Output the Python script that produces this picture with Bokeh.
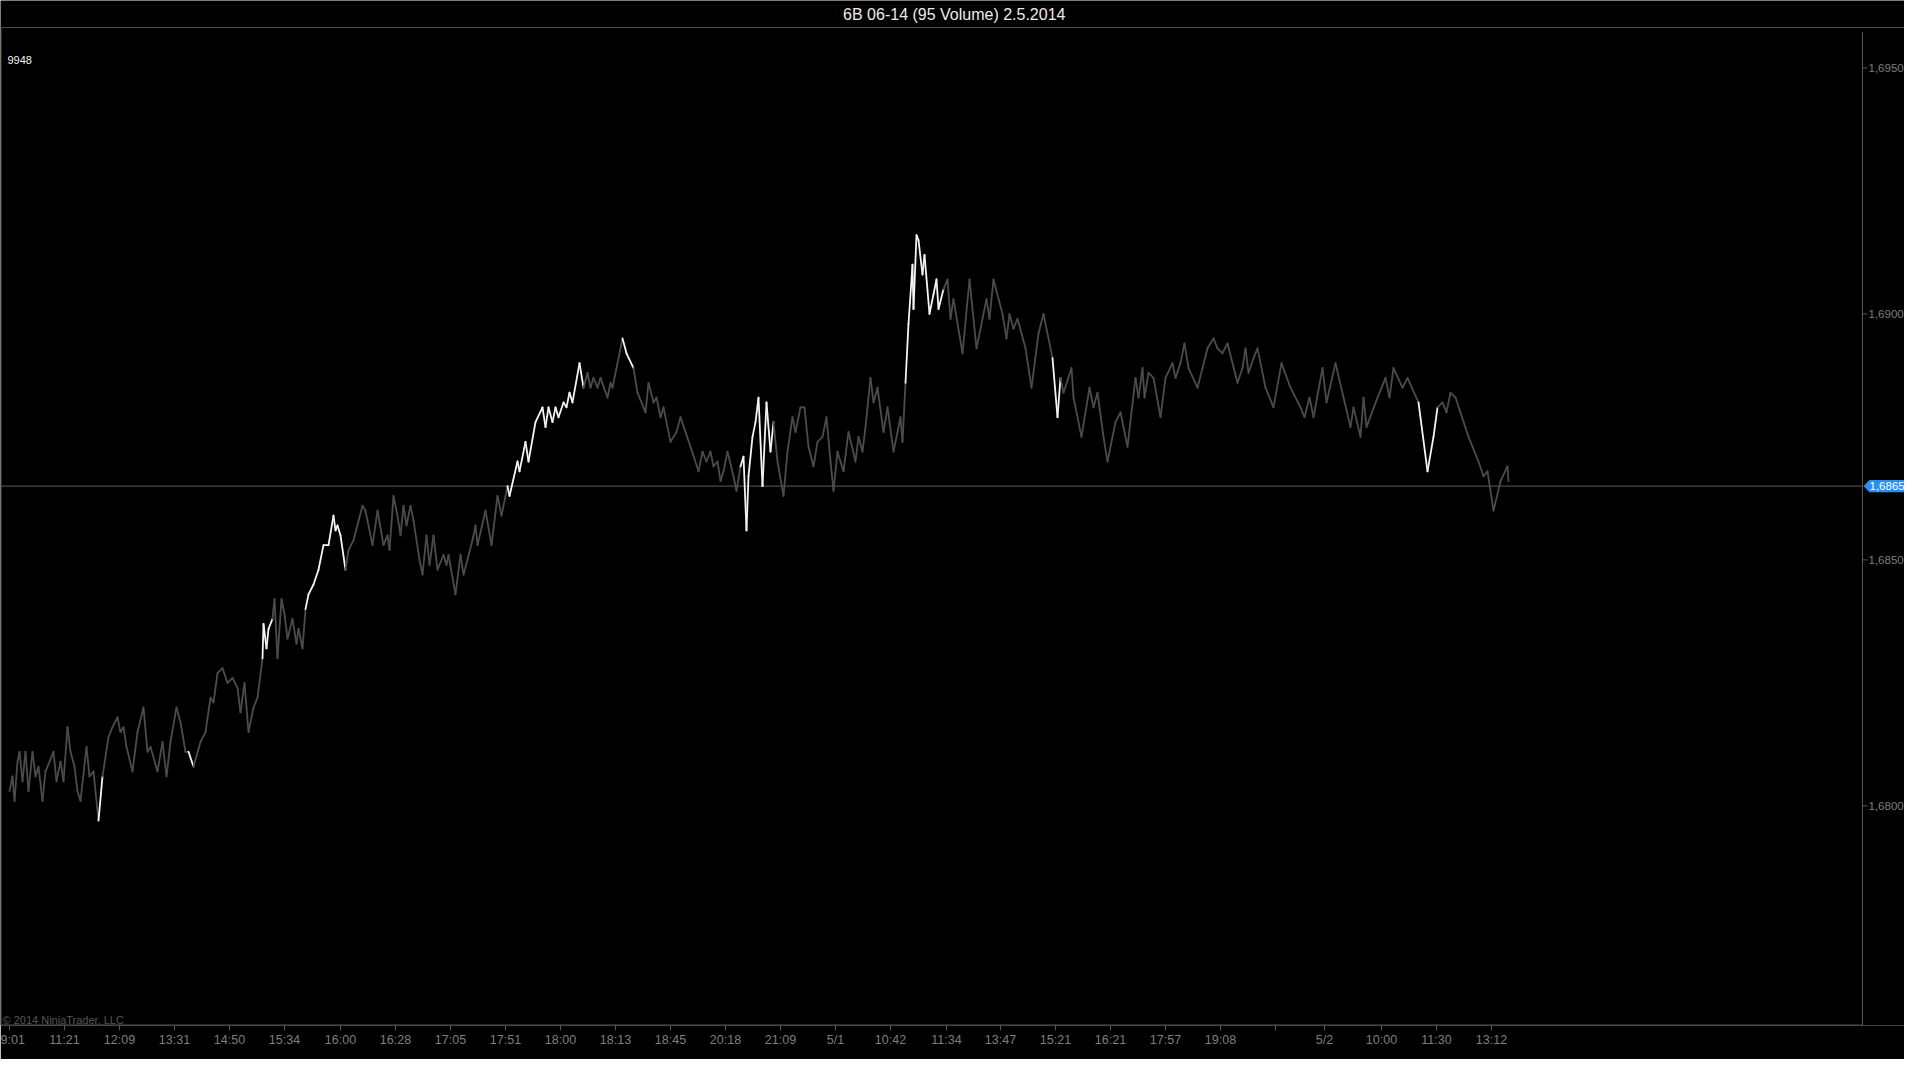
import numpy as np
from bokeh.plotting import figure
from bokeh.models import (Range1d, FixedTicker, Span, ColumnDataSource)
from bokeh.core.properties import value
from bokeh.embed import file_html
from bokeh.resources import INLINE

# ---------------- data ----------------
chart_title = "6B 06-14 (95 Volume)  2.5.2014"
bar_counter = "9948"
copyright_text = "\u00a9 2014 NinjaTrader, LLC"

# swing points of the 95-volume bars: bar number and price
pivot_bar = [
    9, 12, 14, 17, 19, 22, 25, 28, 32, 35, 38, 42, 45, 53, 56, 60, 63, 67, 70, 74,
    77, 80, 86, 89, 93, 98, 102, 108, 112, 117, 120, 123, 126, 132, 137, 143, 147, 150, 157, 162,
    166, 170, 176, 180, 185, 188, 193, 200, 205, 210, 213, 217, 222, 227, 232, 237, 240, 244, 248, 253,
    257, 262, 263, 266, 268, 272, 274, 277, 281, 284, 287, 292, 296, 298, 302, 305, 308,
    313, 318, 323, 328, 333, 335, 337, 340, 345, 348, 353, 362, 365, 372, 377, 383, 387, 389, 393,
    397, 400, 403, 406, 410, 413, 419, 422, 426, 429, 433, 437, 443, 446, 448, 455, 460, 463, 472, 475,
    477, 485, 491, 497, 501, 507, 509, 517, 519, 525, 528, 535, 542, 545, 548, 552, 555, 558, 563, 566,
    569, 572, 579, 583, 587, 590, 593, 597, 600, 607, 610, 612, 622, 626, 633, 637, 645, 648, 653, 656,
    660, 663, 670, 676, 680, 690, 698, 702, 706, 710, 713, 717, 720, 723, 727, 733, 736,
    740, 743, 746, 748, 752, 755, 758, 762, 766, 770, 773, 777, 783, 787, 792, 795, 800, 804, 808, 813,
    817, 822, 826, 830, 833, 837, 843, 848, 855, 858, 862, 865, 870, 873, 877, 883, 887, 893, 900, 902,
    905, 908, 912, 913, 916, 918, 922, 924, 929, 933, 936, 938, 943, 947, 950, 953, 962, 969, 976, 986,
    989, 993, 1002, 1006, 1009, 1013, 1017, 1025, 1031, 1038, 1043, 1052, 1057, 1060, 1063, 1071, 1073, 1081, 1089, 1093,
    1097, 1103, 1107, 1115,
    1120, 1127, 1135, 1138, 1142, 1144, 1148, 1153, 1160, 1165, 1172, 1175, 1180, 1184, 1188, 1197, 1202, 1207, 1213, 1217,
    1222, 1227, 1237, 1242, 1245, 1248, 1253, 1257, 1265, 1273, 1281, 1290, 1300, 1304, 1309, 1313, 1322, 1326, 1335, 1343,
    1350, 1353, 1360, 1363, 1366, 1377, 1385, 1389, 1393, 1402, 1407, 1418, 1427, 1433, 1437, 1442, 1446, 1450, 1455, 1468,
    1478, 1483, 1487, 1493, 1500, 1507, 1508,
]
pivot_price = [
    1.6803, 1.6806, 1.6801, 1.6809, 1.6811, 1.6805, 1.6811, 1.6803, 1.6811, 1.6806, 1.6808, 1.6801, 1.6807, 1.6811, 1.6805, 1.6809, 1.6805, 1.6816, 1.6811, 1.6808,
    1.6803, 1.6801, 1.6812, 1.6806, 1.6807, 1.6797, 1.6806, 1.6814, 1.6816, 1.6818, 1.6815, 1.6816, 1.6812, 1.6807, 1.6815, 1.6820, 1.6811, 1.6812, 1.6807, 1.6813,
    1.6806, 1.6813, 1.6820, 1.6817, 1.6811, 1.6811, 1.6808, 1.6813, 1.6815, 1.6822, 1.6821, 1.6827, 1.6828, 1.6825, 1.6826, 1.6824, 1.6819, 1.6825, 1.6815, 1.6820,
    1.6822, 1.6830, 1.6837, 1.6832, 1.6836, 1.6838, 1.6842, 1.6830, 1.6842, 1.6839, 1.6834, 1.6838, 1.6833, 1.6836, 1.6832, 1.6840, 1.6843,
    1.6845, 1.6848, 1.6853, 1.6853, 1.6859, 1.6856, 1.6857, 1.6855, 1.6848, 1.6852, 1.6854, 1.6861, 1.6860, 1.6853, 1.6860, 1.6853, 1.6855, 1.6852, 1.6863,
    1.6859, 1.6855, 1.6861, 1.6857, 1.6861, 1.6858, 1.6850, 1.6847, 1.6855, 1.6849, 1.6855, 1.6848, 1.6851, 1.6849, 1.6851, 1.6843, 1.6851, 1.6847, 1.6854, 1.6857,
    1.6853, 1.6860, 1.6853, 1.6863, 1.6859, 1.6865, 1.6863, 1.6870, 1.6868, 1.6874, 1.6870, 1.6878, 1.6881, 1.6877, 1.6881, 1.6878, 1.6881, 1.6879, 1.6882, 1.6881,
    1.6884, 1.6882, 1.6890, 1.6885, 1.6888, 1.6885, 1.6887, 1.6885, 1.6887, 1.6883, 1.6886, 1.6885, 1.6895, 1.6892, 1.6889, 1.6884, 1.6880, 1.6886, 1.6882, 1.6883,
    1.6879, 1.6881, 1.6874, 1.6876, 1.6879, 1.6873, 1.6868, 1.6872, 1.6870, 1.6872, 1.6869, 1.6870, 1.6866, 1.6868, 1.6872, 1.6867, 1.6864,
    1.6869, 1.6871, 1.6856, 1.6867, 1.6875, 1.6878, 1.6883, 1.6865, 1.6882, 1.6872, 1.6878, 1.6870, 1.6863, 1.6872, 1.6879, 1.6876, 1.6881, 1.6881, 1.6873, 1.6869,
    1.6874, 1.6875, 1.6879, 1.6870, 1.6864, 1.6872, 1.6868, 1.6876, 1.6870, 1.6875, 1.6872, 1.6877, 1.6887, 1.6882, 1.6885, 1.6876, 1.6881, 1.6872, 1.6879, 1.6874,
    1.6886, 1.6898, 1.6910, 1.6901, 1.6916, 1.6915, 1.6908, 1.6912, 1.6900, 1.6904, 1.6907, 1.6901, 1.6905, 1.6907, 1.6899, 1.6903, 1.6892, 1.6907, 1.6893, 1.6903,
    1.6899, 1.6907, 1.6900, 1.6895, 1.6900, 1.6897, 1.6899, 1.6893, 1.6885, 1.6896, 1.6900, 1.6891, 1.6879, 1.6887, 1.6884, 1.6889, 1.6883, 1.6875, 1.6885, 1.6881,
    1.6884, 1.6875, 1.6870, 1.6878,
    1.6880, 1.6873, 1.6887, 1.6883, 1.6889, 1.6883, 1.6888, 1.6887, 1.6879, 1.6887, 1.6890, 1.6887, 1.6890, 1.6894, 1.6889, 1.6885, 1.6889, 1.6893, 1.6895, 1.6893,
    1.6892, 1.6894, 1.6886, 1.6889, 1.6893, 1.6888, 1.6891, 1.6893, 1.6885, 1.6881, 1.6890, 1.6885, 1.6881, 1.6879, 1.6883, 1.6879, 1.6889, 1.6882, 1.6890, 1.6883,
    1.6877, 1.6881, 1.6875, 1.6883, 1.6877, 1.6883, 1.6887, 1.6883, 1.6889, 1.6885, 1.6887, 1.6882, 1.6868, 1.6875, 1.6881, 1.6882, 1.6880, 1.6884, 1.6883, 1.6875,
    1.6870, 1.6867, 1.6868, 1.6860, 1.6866, 1.6869, 1.6866,
]

# bar ranges that were built fast (drawn bright)
fast_spans = [(97, 103), (187, 194), (261, 271), (306, 346), (505, 582),
              (618, 630), (740, 772), (905, 942), (1054, 1061), (1422, 1439)]

time_ticks = [9, 64, 119, 174, 229, 284, 340, 395, 450, 505, 560, 615, 670, 725,
              780, 835, 890, 946, 1000, 1055, 1110, 1165, 1220, 1275, 1324, 1381, 1436, 1491]
time_labels = ["9:01", "11:21", "12:09", "13:31", "14:50", "15:34", "16:00", "16:28",
               "17:05", "17:51", "18:00", "18:13", "18:45", "20:18", "21:09", "5/1",
               "10:42", "11:34", "13:47", "15:21", "16:21", "17:57", "19:08", "",
               "5/2", "10:00", "11:30", "13:12"]
price_ticks = [1.6800, 1.6850, 1.6900, 1.6950]
last_price = 1.6865

# ---------------- layout ----------------
W, H = 1904, 1059
PANEL_TOP, PANEL_BOTTOM = 27, 1025      # price panel rows
AXIS_X = 1862                            # price-axis column
FRAME_H = PANEL_BOTTOM                   # frame covers rows 0..1025
p_top_panel, p_bottom_panel = 1.695821, 1.675537
ppx = (p_top_panel - p_bottom_panel) / (PANEL_BOTTOM - PANEL_TOP)   # price per pixel
y_lo = p_bottom_panel
y_hi = p_top_panel + PANEL_TOP * ppx


def row_price(row):
    """price at a pixel row of the canvas"""
    return y_hi - row * ppx


def fmt(v):
    return f"{v:.4f}".replace(".", ",")


p = figure(width=W, height=H, output_backend="svg", toolbar_location=None,
           x_range=Range1d(0, W), y_range=Range1d(y_lo, y_hi),
           y_axis_location=None, min_border_left=0, min_border_top=0,
           min_border_right=0, min_border_bottom=H - FRAME_H)
p.background_fill_color = "#000000"
p.border_fill_color = "#000000"
p.outline_line_color = None
p.grid.visible = False

LINE_GREY = "#585858"
TEXT_GREY = "#7e7e7e"
FONT = value("Liberation Sans")

# time axis (below)
xa = p.xaxis[0]
xa.ticker = FixedTicker(ticks=time_ticks)
xa.major_label_overrides = {t: l for t, l in zip(time_ticks, time_labels)}
xa.minor_tick_line_color = None
xa.major_tick_in = 0
xa.major_tick_out = 5
xa.axis_line_color = None
xa.major_tick_line_color = LINE_GREY
xa.major_label_text_color = TEXT_GREY
xa.major_label_text_font = "Liberation Sans"
xa.major_label_text_font_size = "12.5px"
xa.major_label_standoff = 2

# frame lines: title separator, left border, bottom axis line, price-axis line
p.add_layout(Span(location=row_price(PANEL_TOP), dimension="width", line_color="#4a4a4a", line_width=1))
p.segment(x0=[0.5, 0, AXIS_X], y0=[row_price(PANEL_TOP), row_price(PANEL_BOTTOM - 0.5), row_price(PANEL_TOP + 5)],
          x1=[0.5, AXIS_X, AXIS_X], y1=[row_price(PANEL_BOTTOM), row_price(PANEL_BOTTOM - 0.5), row_price(PANEL_BOTTOM)],
          line_color=LINE_GREY, line_width=1)

# price axis ticks and labels
p.segment(x0=[AXIS_X] * len(price_ticks), y0=price_ticks,
          x1=[AXIS_X + 5] * len(price_ticks), y1=price_ticks, line_color=LINE_GREY, line_width=1)
p.text(x=[AXIS_X + 6] * len(price_ticks), y=price_ticks, text=[fmt(v) for v in price_ticks],
       text_align="left", text_baseline="middle", text_color=TEXT_GREY,
       text_font=FONT, text_font_size="11.5px")

# last price line
p.segment(x0=[0], y0=[last_price], x1=[AXIS_X], y1=[last_price], line_color="#5c5c5c", line_width=1)

# price path
xs = np.array(pivot_bar, dtype=float)
ys = np.array(pivot_price, dtype=float)
mid = (xs[:-1] + xs[1:]) / 2
fast = np.zeros(len(mid), dtype=bool)
for a, b in fast_spans:
    fast |= (mid >= a) & (mid <= b)
colors = np.where(fast, "#f4f4f4", "#4c4c4c")
src = ColumnDataSource(dict(x0=xs[:-1], y0=ys[:-1], x1=xs[1:], y1=ys[1:], c=colors))
p.segment("x0", "y0", "x1", "y1", source=src, line_color="c", line_width=1.8, line_cap="round")

# last price marker on the price axis
half = 6.2 * ppx
p.patch(x=[AXIS_X + 1, AXIS_X + 7, W, W, AXIS_X + 7],
        y=[last_price, last_price + half, last_price + half, last_price - half, last_price - half],
        fill_color="#2a8ff0", line_color=None)
p.text(x=[AXIS_X + 7], y=[last_price], text=[fmt(last_price)],
       text_align="left", text_baseline="middle", text_color="#ffffff",
       text_font=FONT, text_font_size="11.5px")

# texts
p.text(x=[956], y=[row_price(13.5)], text=[chart_title], text_align="center",
       text_baseline="middle", text_color="#ececec", text_font=FONT, text_font_size="16px")
p.text(x=[7], y=[row_price(59)], text=[bar_counter], text_align="left",
       text_baseline="middle", text_color="#f0f0f0", text_font=FONT, text_font_size="11px")
p.text(x=[2], y=[row_price(1019)], text=[copyright_text], text_align="left",
       text_baseline="middle", text_color="#555555", text_font=FONT, text_font_size="11px")

open("out.html", "w").write(file_html(p, INLINE))
